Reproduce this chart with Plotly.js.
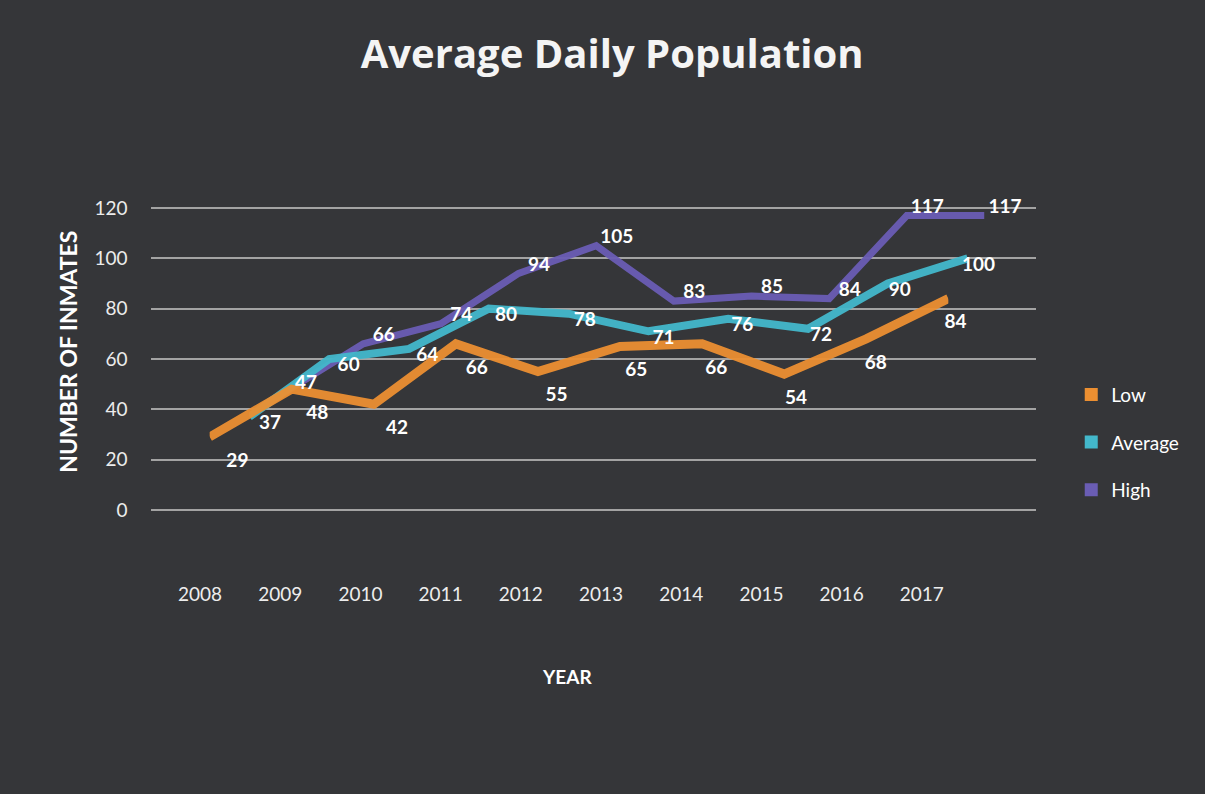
<!DOCTYPE html>
<html><head><meta charset="utf-8">
<script src="https://cdn.plot.ly/plotly-3.0.1.min.js"></script>
<style>html,body{margin:0;padding:0;background:#353639;}#chart{width:1205px;height:794px;}</style>
</head><body><div id="chart"></div>
<script>
// ---- data ----
const years = ['2008','2009','2010','2011','2012','2013','2014','2015','2016','2017'];
const seriesNames = ['Low','Average','High'];
const low = [29,48,42,66,55,65,66,54,68,84];
const average = [37,60,64,80,78,71,76,72,90,100];
const high = [47,66,74,94,105,83,85,84,117,117];
const yTicks = [0,20,40,60,80,100,120];

// ---- styles ----
const colors = ['#ec8f31','#43b8cb','#6a5db4'];
const lineWidths = [9, 8, 7];
// per-series depth offset (x domain in paper coords) for lines and labels
const lineDomains = [[0.174,0.787],[0.207,0.803],[0.237,0.817]];
const labelDomains = [[0.197,0.793],[0.224,0.812],[0.254,0.834]];
const labelShift = [-10, -3, 3];
const allSeries = [low, average, high];
const bg = '#353639';
const labelFont = {color:'#ffffff', size:19, family:'Lato, sans-serif', weight:700};
const yDomain = [0.3546, 0.7412];

const traces = [];
const layout = {
  width:1205, height:794,
  paper_bgcolor:bg, plot_bgcolor:'rgba(0,0,0,0)',
  margin:{l:0,r:0,t:0,b:0},
  title:{text:'<b>Average Daily Population</b>', x:0.508, y:0.932, xanchor:'center', yanchor:'middle',
         font:{color:'#f4f4f4', size:40, family:'Open Sans, sans-serif'}},
  showlegend:true,
  legend:{x:0.889, y:0.527, xanchor:'left', yanchor:'top',
          font:{color:'#ffffff', size:19, family:'Lato, sans-serif'},
          bgcolor:'rgba(0,0,0,0)', tracegroupgap:20, itemwidth:30},
  xaxis:{domain:[0.125,0.86], range:[0,1], showgrid:false, zeroline:false, showticklabels:false, ticks:'', showline:false},
  yaxis:{domain:yDomain, range:[-1,121], tickvals:yTicks, ticktext:yTicks.map(String),
         showgrid:true, gridcolor:'#a3a3a3', gridwidth:2, zeroline:false, showline:false, ticks:'',
         ticklabelstandoff:22, tickfont:{color:'#ececec', size:19, family:'Lato, sans-serif'}},
  annotations:[
    {text:'NUMBER OF INMATES', xref:'paper', yref:'paper', x:0.0565, y:0.557, xanchor:'center', yanchor:'middle',
     textangle:-90, showarrow:false, font:{color:'#ffffff', size:23, family:'Lato, sans-serif', weight:700}},
    {text:'YEAR', xref:'paper', yref:'paper', x:0.4705, y:0.1474, xanchor:'center', yanchor:'middle', showarrow:false,
     font:{color:'#ffffff', size:19, family:'Lato, sans-serif', weight:700}}
  ]
};

// legend entries on main subplot
seriesNames.forEach((n,s) => {
  traces.push({type:'scatter', mode:'markers', x:[null], y:[null], name:n, legendgroup:n,
    marker:{symbol:'square', size:13, color:colors[s]}, xaxis:'x', yaxis:'y', hoverinfo:'skip'});
});

function hiddenAxis(dom){
  return {domain:dom, type:'category', range:[0,9], visible:false, showgrid:false, zeroline:false, fixedrange:true};
}
function hiddenY(){
  return {domain:yDomain, range:[-1,121], visible:false, showgrid:false, zeroline:false, fixedrange:true};
}

// lines: High drawn first (farthest), Low last
const order = [2,1,0];
order.forEach((s,k) => {
  const n = 2 + k;
  layout['xaxis'+n] = Object.assign(hiddenAxis(lineDomains[s]), {anchor:'y'+n});
  layout['yaxis'+n] = Object.assign(hiddenY(), {anchor:'x'+n});
  traces.push({type:'scatter', mode:'lines', x:years, y:allSeries[s], name:seriesNames[s],
    line:{color:colors[s], width:lineWidths[s], shape:'linear'}, opacity:0.95,
    xaxis:'x'+n, yaxis:'y'+n, showlegend:false, hoverinfo:'skip'});
});
// data labels
order.forEach((s,k) => {
  const n = 5 + k;
  layout['xaxis'+n] = Object.assign(hiddenAxis(labelDomains[s]), {anchor:'y'+n});
  layout['yaxis'+n] = Object.assign(hiddenY(), {anchor:'x'+n});
  traces.push({type:'scatter', mode:'text', x:years, y:allSeries[s].map(v => v + labelShift[s]),
    text:allSeries[s].map(String), textposition:'middle center', textfont:labelFont,
    xaxis:'x'+n, yaxis:'y'+n, showlegend:false, hoverinfo:'skip', cliponaxis:false});
});
// year tick labels axis
layout.xaxis8 = {domain:[0.166,0.765], type:'category', range:[0,9], anchor:'free', position:0.268,
  showgrid:false, zeroline:false, showline:false, ticks:'',
  tickfont:{color:'#ededed', size:19, family:'Lato, sans-serif'}};
layout.yaxis8 = {domain:[0.2,0.3], visible:false, anchor:'x8'};
traces.push({type:'scatter', mode:'markers', x:years, y:years.map(() => null), xaxis:'x8', yaxis:'y8',
  showlegend:false, hoverinfo:'skip'});

Plotly.newPlot('chart', traces, layout, {displayModeBar:false, staticPlot:true});
</script></body></html>
